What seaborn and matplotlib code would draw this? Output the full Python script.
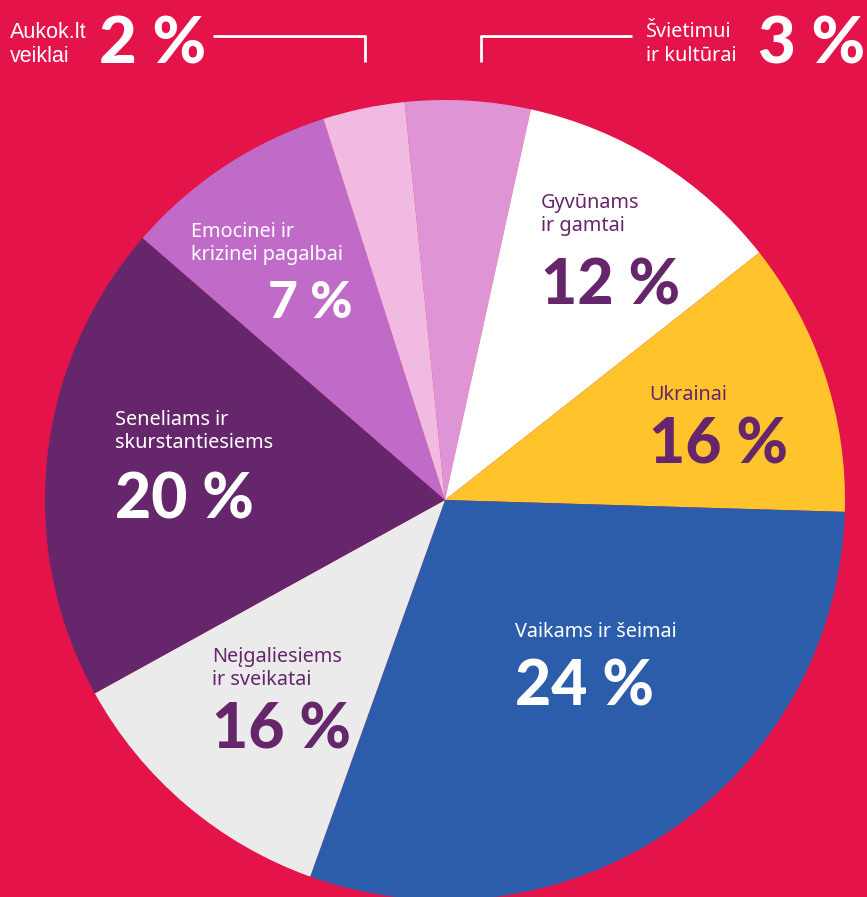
import numpy as np
import matplotlib
matplotlib.use("Agg")
import matplotlib.pyplot as plt
import seaborn as sns

# slice order: clockwise starting with "Švietimui ir kultūrai" slice at top
categories = ["Švietimui\nir kultūrai", "Gyvūnams\nir gamtai", "Ukrainai", "Vaikams ir šeimai",
              "Neįgaliesiems\nir sveikatai", "Seneliams ir\nskurstantiesiems",
              "Emocinei ir\nkrizinei pagalbai", "Aukok.lt\nveiklai"]
pct_labels = [3, 12, 16, 24, 16, 20, 7, 2]
# angular size of each slice as drawn (degrees)
slice_deg = [18.2, 39.4, 39.9, 108.0, 41.4, 69.8, 31.4, 11.9]
slice_colors = ["#DF94D5", "#FFFFFF", "#FFC42B", "#2B5DAB", "#EBEBEB", "#66266B", "#C06BC7", "#F1BAE3"]

BG = "#E4134A"
PURPLE = "#66266B"

sns.set_theme(style="white")
plt.rcParams['font.family'] = ['Noto Sans', 'DejaVu Sans']

W, H = 867, 897
fig = plt.figure(figsize=(W / 100, H / 100), dpi=100, facecolor=BG)
ax = fig.add_axes([0, 0, 1, 1])
ax.set_facecolor(BG)

def py(y):
    # pixel row (from top) -> data y
    return H - y

cx, cy, r = 445, 500, 400
ax.pie(slice_deg, colors=slice_colors, startangle=95.8, counterclock=False,
       radius=r, center=(cx, py(cy)), frame=False,
       wedgeprops=dict(linewidth=0))
ax.set_xlim(0, W)
ax.set_ylim(0, H)
ax.set_aspect("equal")
ax.axis("off")

big = dict(family=['Lato', 'DejaVu Sans'], fontweight='black', va='baseline', ha='left')
small = dict(family=['Noto Sans', 'DejaVu Sans'], va='baseline', ha='left')

# labels inside slices: (index, x, baseline of first line, text color, number x, number baseline, size)
inside = [
    (1, 541, 208, PURPLE, 541, 304, 45),
    (2, 649, 400, PURPLE, 649, 463, 45),
    (3, 515, 637, "white", 515, 705, 45),
    (4, 212, 662, PURPLE, 212, 748, 45),
    (5, 115, 425, "white", 115, 518, 45),
    (6, 191, 237, "white", 268, 318, 37),
]
for i, tx, ty, col, nx, ny, fs in inside:
    lines = categories[i].split("\n")
    for k, line in enumerate(lines):
        ax.text(tx, py(ty + 23 * k), line, color=col, fontsize=14.3, **small)
    ax.text(nx, py(ny), f"{pct_labels[i]} %", color=col, fontsize=fs, **big)

# outside labels at the top
lab = dict(family=['Liberation Sans', 'DejaVu Sans'], va='baseline', ha='left', color='white', fontsize=15.5)
ax.text(10, py(38), "Aukok.lt", **lab)
ax.text(10, py(62), "veiklai", **lab)
ax.text(99, py(63), f"{pct_labels[7]} %", color="white", fontsize=47, **big)
ax.plot([213, 365, 365], [py(36), py(36), py(62)], color="white", lw=2, solid_capstyle="butt")

ax.text(646, py(37), "Švietimui", color="white", fontsize=14.3, **small)
ax.text(646, py(61), "ir kultūrai", color="white", fontsize=14.3, **small)
ax.text(758, py(63), f"{pct_labels[0]} %", color="white", fontsize=47, **big)
ax.plot([481, 481, 632], [py(62), py(36), py(36)], color="white", lw=2, solid_capstyle="butt")

fig.savefig("out.png", dpi=100, facecolor=BG)
